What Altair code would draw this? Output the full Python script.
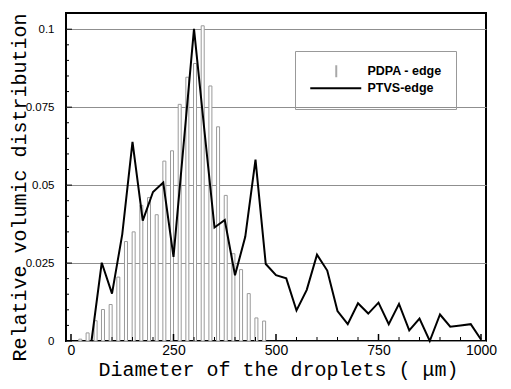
import altair as alt
import pandas as pd

# PDPA - edge (bars)
bar_x = [22.6, 40.5, 60.0, 78.0, 96.7, 115.4, 134.1, 152.8, 171.5, 190.3,
         209.0, 227.7, 246.4, 265.1, 283.8, 302.5, 321.2, 340.0, 358.7, 377.4,
         396.1, 414.8, 433.5, 452.2, 471.0]
bar_y = [0.0006, 0.0026, 0.0065, 0.0101, 0.0117, 0.0205, 0.0319, 0.0350, 0.0435, 0.0460,
         0.0405, 0.0577, 0.0610, 0.0759, 0.0846, 0.0890, 0.1011, 0.0818, 0.0687, 0.0467,
         0.0280, 0.0229, 0.0152, 0.0074, 0.0064]

# PTVS-edge (line)
line_x = [50, 75, 100, 125, 150, 175, 200, 225, 250, 275, 300, 325, 350, 375, 400,
          425, 450, 475, 500, 525, 550, 575, 600, 625, 650, 675, 700, 725, 750, 775,
          800, 825, 850, 875, 900, 925, 950, 975, 1000]
line_y = [0.0, 0.0251, 0.0152, 0.0342, 0.0639, 0.0386, 0.0478, 0.0508, 0.0270, 0.0635,
          0.1001, 0.0680, 0.0364, 0.0388, 0.0211, 0.0334, 0.0582, 0.0247, 0.0211, 0.0201,
          0.0098, 0.0164, 0.0277, 0.0226, 0.0096, 0.0054, 0.0121, 0.0088, 0.0123, 0.0054,
          0.0119, 0.0034, 0.0072, 0.0, 0.0085, 0.0046, 0.0050, 0.0054, 0.0005]

series_names = ["PDPA - edge", "PTVS-edge"]

x_major = [0, 250, 500, 750, 1000]
x_minor = [50, 100, 150, 200, 300, 350, 400, 450, 550, 600, 650, 700, 800, 850, 900, 950]
y_major = [0, 0.025, 0.05, 0.075, 0.1]
y_minor = [0.005, 0.01, 0.015, 0.02, 0.03, 0.035, 0.04, 0.045, 0.055, 0.06, 0.065,
           0.07, 0.08, 0.085, 0.09, 0.095]

W, H = 420, 328

bars = pd.DataFrame({"x": bar_x, "y": bar_y})
line = pd.DataFrame({"x": line_x, "y": line_y})
leg = pd.DataFrame({"series": series_names, "x": [500, 500], "y": [-0.05, -0.05]})

xs = alt.Scale(domain=[0, 1000], nice=False, zero=False)
ys = alt.Scale(domain=[0, 0.1052], nice=False, zero=False)

x_axis = alt.Axis(values=x_major, format="d", title="Diameter of the droplets ( μm)",
                  titleFont="Liberation Mono", titleFontSize=20, titleFontWeight="normal",
                  titleColor="black", titleBaseline="alphabetic", titleY=34, titleX=212,
                  labelFont="Liberation Sans", labelFontSize=14, labelColor="black",
                  labelFlush=False, labelPadding=2, ticks=False, domain=False, grid=False)
y_axis = alt.Axis(values=y_major, labelExpr="format(datum.value, '.3~f')",
                  title="Relative volumic distribution",
                  titleFont="Liberation Mono", titleFontSize=20, titleFontWeight="normal",
                  titleColor="black", titleBaseline="alphabetic", titleX=-41, titleY=174,
                  titleAlign="center",
                  labelFont="Liberation Sans Narrow, Liberation Sans", labelFontSize=11.5,
                  labelColor="black",
                  labelPadding=12, ticks=False, domain=False, grid=True,
                  gridColor="#8f8f8f", gridWidth=1)

bar_layer = alt.Chart(bars).mark_bar(size=3, fill="white", stroke="#9a9a9a", strokeWidth=1).encode(
    x=alt.X("x:Q", scale=xs, axis=x_axis),
    y=alt.Y("y:Q", scale=ys, axis=y_axis),
)

line_layer = alt.Chart(line).mark_line(color="black", strokeWidth=2).encode(
    x=alt.X("x:Q", scale=xs),
    y=alt.Y("y:Q", scale=ys),
)

path_bar = "M4.2,-1.2L4.2,1.2"
path_line = "M-1,0L9.2,0"

legend_def = alt.Legend(title=None, orient="none", legendX=229, legendY=38, padding=14,
                        strokeColor="#999999", labelFont="Liberation Sans",
                        labelFontWeight="bold", labelFontSize=12.5, labelColor="black",
                        symbolSize=100, symbolStrokeWidth=2, labelOffset=46, rowPadding=-2)

leg_layer = alt.Chart(leg).mark_point(clip=True, filled=False, size=100, opacity=1, strokeWidth=2).encode(
    x=alt.X("x:Q", scale=xs),
    y=alt.Y("y:Q", scale=ys),
    color=alt.Color("series:N", scale=alt.Scale(domain=series_names, range=["#a8a8a8", "black"]),
                    legend=legend_def),
    shape=alt.Shape("series:N", scale=alt.Scale(domain=series_names, range=[path_bar, path_line]),
                    legend=legend_def),
)

ytm = alt.Chart(pd.DataFrame({"v": y_major})).mark_rule(color="black", strokeWidth=1).encode(
    y=alt.Y("v:Q", scale=ys), x=alt.value(0), x2=alt.value(6))
ytn = alt.Chart(pd.DataFrame({"v": y_minor})).mark_rule(color="black", strokeWidth=1).encode(
    y=alt.Y("v:Q", scale=ys), x=alt.value(0), x2=alt.value(3))
xtm = alt.Chart(pd.DataFrame({"v": x_major})).mark_rule(color="black", strokeWidth=1.5).encode(
    x=alt.X("v:Q", scale=xs), y=alt.value(H), y2=alt.value(H - 7))
xtn = alt.Chart(pd.DataFrame({"v": x_minor})).mark_rule(color="black", strokeWidth=1).encode(
    x=alt.X("v:Q", scale=xs), y=alt.value(H), y2=alt.value(H - 4))

chart = alt.layer(bar_layer, line_layer, leg_layer, ytm, ytn, xtm, xtn).properties(
    width=W, height=H,
    autosize=alt.AutoSizeParams(type="none"),
    padding={"left": 58, "top": 5, "right": 17, "bottom": 39},
    background="white",
).configure_view(stroke="black", strokeWidth=2)

chart.save("out.html", embed_options={"renderer": "svg", "actions": False})
